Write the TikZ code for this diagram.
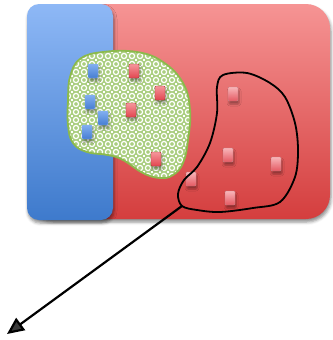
\documentclass[tikz,border=0pt]{standalone}
\usetikzlibrary{shadows.blur,patterns,arrows.meta}
\definecolor{redtop}{RGB}{246,148,148}
\definecolor{redbot}{RGB}{212,62,62}
\definecolor{bluetop}{RGB}{142,184,246}
\definecolor{bluebot}{RGB}{62,122,204}
\definecolor{leaf}{RGB}{140,186,76}
\definecolor{leafmid}{RGB}{170,206,128}
\definecolor{chipred}{RGB}{226,70,80}
\definecolor{chipredlt}{RGB}{245,150,155}
\definecolor{chipblue}{RGB}{70,125,210}
\definecolor{chipbluelt}{RGB}{130,175,240}
% a mesh of rings used inside the green region
\pgfdeclarepatternformonly{ringmesh}{\pgfpoint{-1pt}{-1pt}}{\pgfpoint{9pt}{9pt}}{\pgfpoint{8pt}{8pt}}{%
  \pgfsetlinewidth{1.2pt}%
  \pgfpathcircle{\pgfpoint{4pt}{4pt}}{2.6pt}\pgfusepath{stroke}%
  \pgfpathrectangle{\pgfpoint{-0.8pt}{-0.8pt}}{\pgfpoint{1.6pt}{1.6pt}}\pgfusepath{fill}}
\tikzset{
  panel/.style={blur shadow={shadow xshift=1pt,shadow yshift=-3pt,shadow blur radius=3pt,shadow opacity=45}},
  chip/.style={minimum width=10pt,minimum height=14pt,inner sep=0pt,rounded corners=1pt,
    blur shadow={shadow xshift=1pt,shadow yshift=-3pt,shadow blur radius=2pt,shadow opacity=35}},
  redchip/.style={chip,draw=chipred!80!black,line width=0.4pt,top color=chipredlt,bottom color=chipred},
  palechip/.style={chip,draw=chipred!70!black!60,line width=0.4pt,top color=chipredlt!70!white,bottom color=chipred!90},
  bluechip/.style={chip,draw=chipbluelt,line width=0.4pt,top color=chipbluelt,bottom color=chipblue},
  outline/.style={draw=black,line width=1.8pt}
}
\begin{document}
\begin{tikzpicture}[x=1pt,y=-1pt]
\useasboundingbox (0,0) rectangle (332,340);
% large red field
\path[panel,rounded corners=24pt,top color=redtop,bottom color=redbot]
  (28,4) rectangle (330,219);
% blue strip on the left
\path[panel,rounded corners=12pt,top color=bluetop,bottom color=bluebot]
  (27,4) rectangle (113,220);
% green patterned region
\path[fill=leafmid] plot[smooth cycle,tension=0.7] coordinates{
  (70,77) (80,59) (103,52) (137,52) (163,62) (183,83) (190,110) (188,140)
  (183,163) (173,175) (160,178) (143,173) (123,160) (108,155) (87,152) (73,143) (68,125) (68,100)};
\path[pattern=ringmesh,pattern color=white] plot[smooth cycle,tension=0.7] coordinates{
  (70,77) (80,59) (103,52) (137,52) (163,62) (183,83) (190,110) (188,140)
  (183,163) (173,175) (160,178) (143,173) (123,160) (108,155) (87,152) (73,143) (68,125) (68,100)};
\draw[leaf,line width=1.8pt] plot[smooth cycle,tension=0.7] coordinates{
  (70,77) (80,59) (103,52) (137,52) (163,62) (183,83) (190,110) (188,140)
  (183,163) (173,175) (160,178) (143,173) (123,160) (108,155) (87,152) (73,143) (68,125) (68,100)};
% chips inside the green region
\node[bluechip] (b1) at (93,71) {};
\node[bluechip] (b2) at (90,102) {};
\node[bluechip] (b3) at (103,118) {};
\node[bluechip] (b4) at (87,132) {};
\node[redchip] (r1) at (134,71) {};
\node[redchip] (r2) at (160,93) {};
\node[redchip] (r3) at (131,110) {};
\node[redchip] (r4) at (156,159) {};
% chips in the outlined group
\node[palechip] (r5) at (233,94) {};
\node[palechip] (r6) at (228,155) {};
\node[palechip] (r7) at (276,164) {};
\node[palechip] (r8) at (230,198) {};
\node[palechip] (r9) at (191,179) {};
% outlined group
\draw[outline] plot[smooth cycle,tension=0.55] coordinates{
  (223,75) (247,73) (270,83) (285,97) (295,123) (298,150) (295,177) (280,202)
  (253,208) (220,212) (197,210) (182,206) (178,194) (184,180) (197,167) (210,143) (217,113) (217,87)};
% pointer
\coordinate (tail) at (182,206);
\coordinate (tip) at (7,334);
\draw[line width=2.2pt,-{Triangle[length=17pt,width=15pt]}] (tail) -- (tip);
\end{tikzpicture}
\end{document}
